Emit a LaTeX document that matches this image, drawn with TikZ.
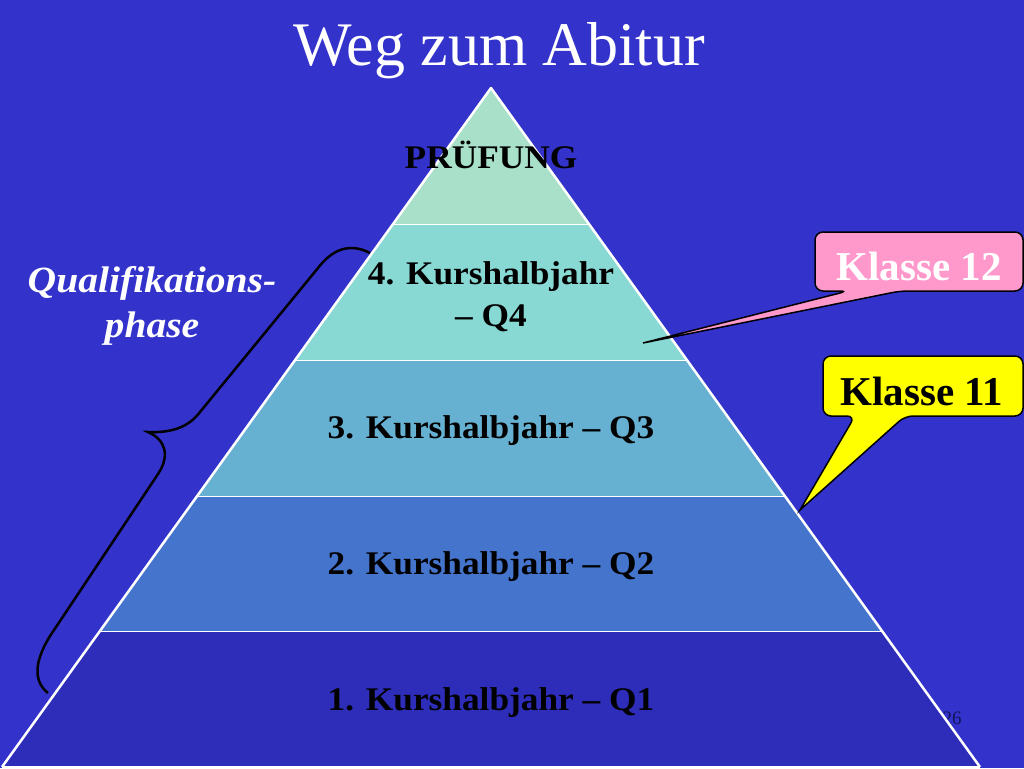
\documentclass[tikz,border=0pt]{standalone}
\usepackage{fontspec}
\setmainfont{Liberation Serif}
\usetikzlibrary{calc}
\definecolor{sfondo}{HTML}{3333CC}
\definecolor{liv1}{HTML}{2D2DB9}
\definecolor{liv2}{HTML}{4474CC}
\definecolor{liv3}{HTML}{66B0D2}
\definecolor{liv4}{HTML}{88D8D4}
\definecolor{liv5}{HTML}{A8E0CA}
\definecolor{rosa}{HTML}{FF99CC}
\definecolor{giallo}{HTML}{FFFF00}
\definecolor{numero}{HTML}{14145A}
\newcommand\largo[1]{\scalebox{1.07}[1]{#1}}

\begin{document}
\begin{tikzpicture}[x=1pt,y=-1pt,
  strato/.style={font=\bfseries\fontsize{33}{42}\selectfont, text=black},
  fumetto/.style={draw=black, line width=1.5pt, rounded corners=8pt}]
  %tikz  Weg zum Abitur, piramide
  \fill[sfondo] (0,0) rectangle (1024,768);
  \useasboundingbox (0,0) rectangle (1024,768);
  \node[font=\fontsize{19}{19}\selectfont, text=numero] (pag) at (952,718) {26};
  \coordinate (V) at (491,88);
  \coordinate (L) at (2,767);
  \coordinate (R) at (980,767);
  \foreach \a/\b/\c in {0/0.2018/liv5, 0.2018/0.4021/liv4, 0.4021/0.6024/liv3, 0.6024/0.8012/liv2, 0.8012/1/liv1}{
    \fill[\c] ($(V)!\a!(L)$) -- ($(V)!\b!(L)$) -- ($(V)!\b!(R)$) -- ($(V)!\a!(R)$) -- cycle;
    \draw[white, line width=2.5pt] ($(V)!\b!(L)$) -- ($(V)!\b!(R)$);
  }
  \draw[white, line width=2.5pt, line join=round] (L) -- (V) -- (R);
  \node[text=white, font=\fontsize{62}{62}\selectfont, anchor=base] (titolo) at (499,65) {Weg zum Abitur};
  \node[strato, anchor=base] (esame) at (491,168) {\largo{PRÜFUNG}};
  \node[strato, align=center] (q4) at (491,297) {\largo{4. Kurshalbjahr}\\\largo{-- Q4}};
  \node[strato, anchor=base] (q3) at (491,438) {\largo{3. Kurshalbjahr -- Q3}};
  \node[strato, anchor=base] (q2) at (491,574) {\largo{2. Kurshalbjahr -- Q2}};
  \node[strato, anchor=base] (q1) at (491,710) {\largo{1. Kurshalbjahr -- Q1}};
  % graffa
  \draw[line width=2.5pt] (370,253) .. controls (345,240) and (328,255) .. (318,268) -- (200,412)
    .. controls (188,428) and (170,433) .. (148,432) .. controls (166,440) and (170,456) .. (158,474)
    -- (54,630) .. controls (32,662) and (34,682) .. (48,693);
  \node[text=white, align=center, font=\bfseries\itshape\fontsize{37}{45}\selectfont] (fase) at (152,306)
    {\largo{Qualifikations-}\\\largo{phase}};
  % fumetti
  \coordinate (p12) at (643,343);
  \coordinate (p11) at (800,510);
  \draw[fumetto, fill=rosa] (p12) -- (900,291) -- (1023,291) -- (1023,232) -- (815,232) -- (815,291) -- (848,291) [sharp corners] -- cycle;
  \draw[fumetto, fill=giallo] (p11) -- (905,416) -- (1023,416) -- (1023,356) -- (823,356) -- (823,416) -- (855,416) [sharp corners] -- cycle;
  \node[text=white, font=\bfseries\fontsize{41}{41}\selectfont, anchor=base] (k12) at (919,280) {Klasse 12};
  \node[text=black, font=\bfseries\fontsize{41}{41}\selectfont, anchor=base] (k11) at (922,405) {Klasse 11};
\end{tikzpicture}
\end{document}
